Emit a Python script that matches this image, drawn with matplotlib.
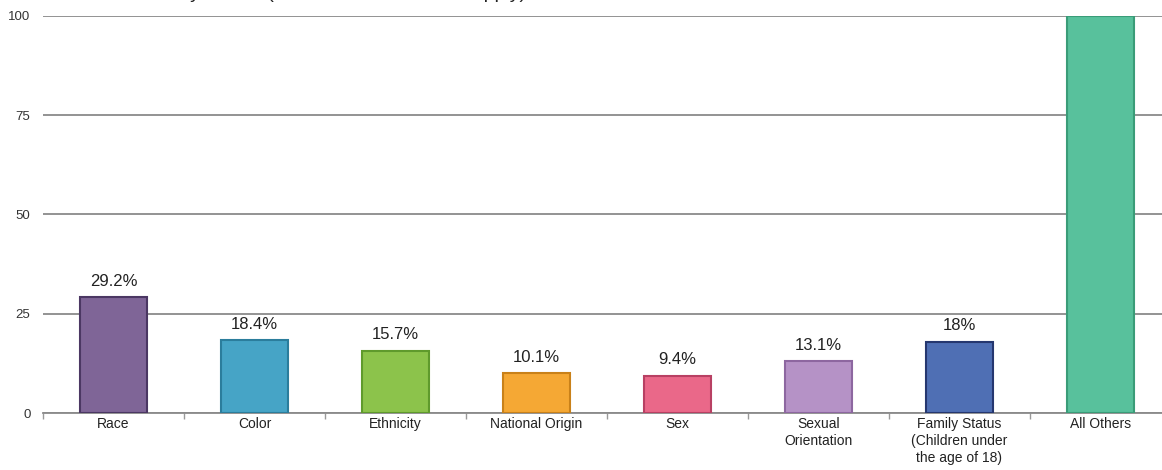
import matplotlib
matplotlib.use("Agg")
import matplotlib.pyplot as plt
import numpy as np

categories = ["Race", "Color", "Ethnicity", "National Origin", "Sex",
              "Sexual\nOrientation", "Family Status\n(Children under\nthe age of 18)", "All Others"]
values = [29.2, 18.4, 15.7, 10.1, 9.4, 13.1, 18.0, 100.0]
value_labels = ["29.2%", "18.4%", "15.7%", "10.1%", "9.4%", "13.1%", "18%", ""]
face_colors = ["#7f6597", "#46a4c6", "#8cc34b", "#f5a834", "#ea6889", "#b592c6", "#4f6fb4", "#58c19c"]
edge_colors = ["#4b3763", "#2b7d9c", "#5f9a2c", "#c98119", "#b84063", "#8d67a0", "#25376f", "#3a9c78"]
yticks = [0, 25, 50, 75, 100]
title = "Discriminated by Cause (Check all of those that apply)"

plt.rcParams['font.family'] = ['Liberation Sans', 'DejaVu Sans']

fig = plt.figure(figsize=(11.62, 4.70), dpi=100)
ax = fig.add_axes([43/1162, 57/470, 1128/1162, 397/470])

x = np.arange(len(categories))
bars = ax.bar(x, values, width=0.475, color=face_colors, edgecolor=edge_colors,
              linewidth=1.5, zorder=3)
for xi, v, lab in zip(x, values, value_labels):
    if lab:
        ax.annotate(lab, (xi, v), xytext=(0, 6), textcoords="offset points",
                    ha="center", va="bottom", fontsize=12, color="#222222")

ax.set_xlim(-0.5, len(categories) - 0.5)
ax.set_ylim(0, 100)
ax.set_yticks(yticks)
ax.set_yticklabels([str(t) for t in yticks])
ax.yaxis.grid(True, color="#8a8a8a", linewidth=1.3, zorder=1)
ax.set_axisbelow(True)
for s in ["top", "right", "left"]:
    ax.spines[s].set_visible(False)
ax.spines["bottom"].set_color("#8a8a8a")
ax.spines["bottom"].set_linewidth(1.3)
ax.tick_params(axis="y", length=0, pad=9, labelsize=9.5, labelcolor="#333333")
ax.set_xticks(x)
ax.set_xticklabels(categories, fontsize=10, color="#222222", linespacing=1.25)
ax.tick_params(axis="x", length=0, pad=3)
ax.set_xticks(np.arange(len(categories) + 1) - 0.5, minor=True)
ax.tick_params(axis="x", which="minor", length=4, color="#9a9a9a", width=1)

fig.text(55/1162, 1.0 + 1.5/470, title,
         fontsize=14, ha="left", va="baseline", color="#222222")

fig.savefig("out.png", dpi=100)
